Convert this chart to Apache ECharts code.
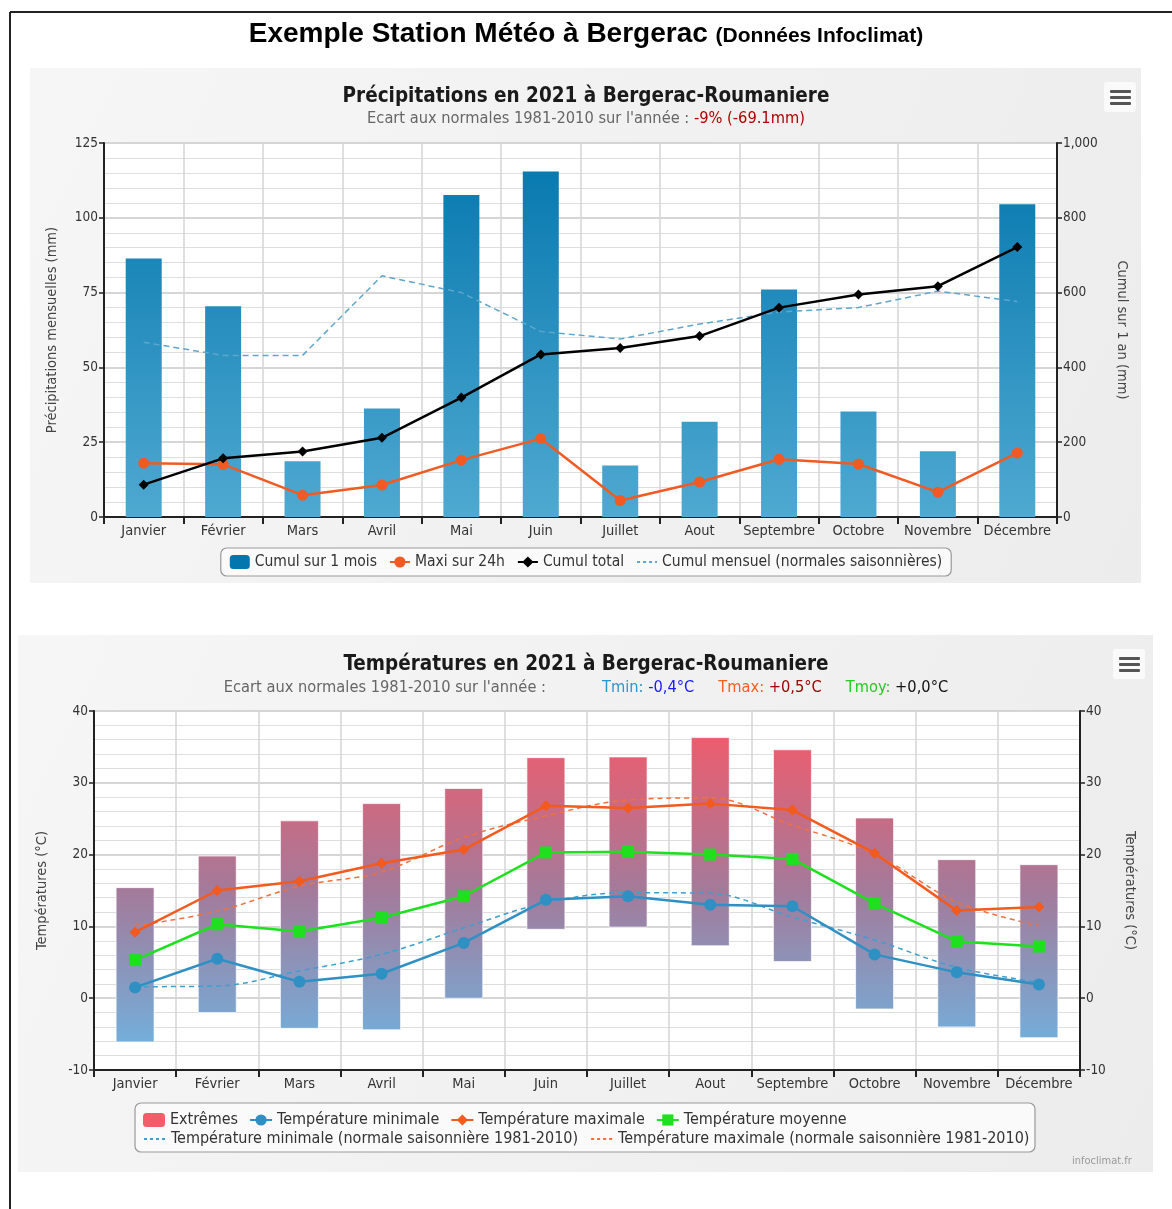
<!DOCTYPE html>
<html><head><meta charset="utf-8">
<script src="https://cdn.jsdelivr.net/npm/echarts@6/dist/echarts.min.js"></script>
<style>html,body{margin:0;padding:0;background:#fff;}#c{width:1172px;height:1209px;}</style>
</head><body><div id="c"></div>
<script>
const months = ['Janvier','Février','Mars','Avril','Mai','Juin','Juillet','Aout','Septembre','Octobre','Novembre','Décembre'];
// Precipitations (mm)
const rainMonthly = [86.4, 70.4, 18.6, 36.3, 107.6, 115.5, 17.2, 31.8, 76.0, 35.3, 22.0, 104.5];
const rainMax24h  = [18.0, 17.6, 7.3, 10.7, 19.0, 26.2, 5.5, 11.7, 19.3, 17.7, 8.3, 21.4];
const rainCumul   = [86.4, 156.8, 175.4, 211.7, 319.3, 434.8, 452.0, 483.8, 559.8, 595.1, 617.1, 721.6];
const rainNormal  = [58.4, 54.0, 54.0, 80.6, 75.0, 62.0, 59.5, 64.5, 68.5, 70.0, 75.5, 72.0];
// Temperatures (°C)
const extLow   = [-6.1, -2.0, -4.2, -4.4, 0.0, 9.6, 9.9, 7.3, 5.1, -1.5, -4.0, -5.5];
const extHigh  = [15.4, 19.8, 24.7, 27.1, 29.2, 33.5, 33.6, 36.3, 34.6, 25.1, 19.3, 18.6];
const tMin     = [1.5, 5.5, 2.3, 3.4, 7.7, 13.7, 14.2, 13.0, 12.8, 6.1, 3.6, 1.9];
const tMax     = [9.2, 15.0, 16.3, 18.8, 20.7, 26.8, 26.5, 27.1, 26.2, 20.2, 12.2, 12.7];
const tMoy     = [5.3, 10.3, 9.3, 11.2, 14.2, 20.3, 20.4, 20.0, 19.4, 13.2, 7.9, 7.2];
const tMinNorm = [1.6, 1.7, 3.8, 6.1, 9.8, 13.3, 14.7, 14.6, 11.3, 8.1, 4.3, 2.2];
const tMaxNorm = [10.1, 12.1, 15.6, 17.6, 22.4, 25.4, 27.6, 27.9, 24.1, 20.1, 13.4, 10.1];
const rainTicksLeft = [0, 125, 25];
const rainTicksRight = [0, 1000, 200];
const tempTicks = [-10, 40, 10];

const FONT = '"DejaVu Sans Condensed", "DejaVu Sans", sans-serif';
const TITLE_FONT = '"Liberation Sans Narrow", "Liberation Sans", sans-serif';
const G1 = {left:104, top:143, width:953, height:374};
const G2 = {left:94, top:711, width:986, height:359};

const rainGrad = {type:'linear', x:0, y:G1.top, x2:0, y2:G1.top+G1.height, global:true,
  colorStops:[{offset:0,color:'#0376ad'},{offset:1,color:'#4fa9d1'}]};
const extGrad = {type:'linear', x:0, y:G2.top, x2:0, y2:G2.top+G2.height, global:true,
  colorStops:[{offset:0,color:'#f85866'},{offset:0.5,color:'#a47a9a'},{offset:1,color:'#6ab8e6'}]};

function xAxisCfg(gi){
  return {type:'category', gridIndex:gi, data:months, boundaryGap:true,
    axisLine:{onZero:false, lineStyle:{color:'#222', width:2}},
    axisTick:{show:true, interval:0, length:7, lineStyle:{color:'#222',width:2}},
    axisLabel:{interval:0, color:'#333', fontSize:14.5, fontFamily:FONT, margin:7},
    splitLine:{show:true, interval:0, lineStyle:{color:'#d4d4d4', width:1.5}}};
}
function yAxisCfg(gi, rng, pos, name, gap, fmt, split){
  return {type:'value', gridIndex:gi, position:pos, min:rng[0], max:rng[1], interval:rng[2],
    name:name, nameLocation:'middle', nameGap:gap, nameRotate: pos==='left'?90:-90,
    nameTextStyle:{color:'#444', fontSize:14.5, fontFamily:FONT},
    axisLine:{show:true, onZero:false, lineStyle:{color:'#222', width:2}},
    axisTick:{show:true, length:5, lineStyle:{color:'#222', width:1.5}},
    axisLabel:{color:'#333', fontSize:13.5, fontFamily:FONT, margin:6, formatter:fmt},
    splitLine:{show:split, lineStyle:{color:'#c8c8c8', width:1.5}},
    minorTick:{show:false, splitNumber:5},
    minorSplitLine:{show:split, lineStyle:{color:'#dedede', width:1.2}}};
}
const LEG_TXT = {color:'#333', fontSize:15.5, fontFamily:FONT};
const LEG_TXT2 = {color:'#333', fontSize:16, fontFamily:FONT};
const hidSym = {color:'transparent', borderWidth:0};
const SUB = 16.3;
function st(color){ return {fontFamily:FONT, fontSize:SUB, fontWeight:'normal', color:color}; }

const option = {
  animation:false,
  backgroundColor:'#fff',
  textStyle:{fontFamily:FONT},
  title:[
    {left:'center', top:15, text:'{a|Exemple Station Météo à Bergerac }{b|(Données Infoclimat)}',
      textStyle:{rich:{a:{fontFamily:TITLE_FONT, fontWeight:'bold', fontSize:28, color:'#000'},
                       b:{fontFamily:TITLE_FONT, fontWeight:'bold', fontSize:21, color:'#000', verticalAlign:'bottom', padding:[0,0,1,0]}}}},
    {left:'center', top:81, text:'Précipitations en 2021 à Bergerac-Roumaniere',
      textStyle:{fontFamily:FONT, fontSize:20.5, color:'#1a1a1a', fontWeight:'bold'}},
    {left:'center', top:106, text:'{g|Ecart aux normales 1981-2010 sur l\'année : }{r|-9% (-69.1mm)}',
      textStyle:{rich:{g:st('#666'), r:st('#b00000')}}},
    {left:'center', top:649, text:'Températures en 2021 à Bergerac-Roumaniere',
      textStyle:{fontFamily:FONT, fontSize:20.5, color:'#1a1a1a', fontWeight:'bold'}},
    {left:'center', top:674, text:'{g|Ecart aux normales 1981-2010 sur l\'année :}{sp|}{a|Tmin: }{b|-0,4°C}{sp2|}{c|Tmax: }{d|+0,5°C}{sp2|}{e|Tmoy: }{f|+0,0°C}',
      textStyle:{rich:{
        g:st('#666'), sp:{width:56}, sp2:{width:24},
        a:st('#2e95cc'), b:st('#1a1aff'), c:st('#f06020'), d:st('#a00000'), e:st('#22cc22'), f:st('#111')}}}
  ],
  graphic:[
    {type:'line', shape:{x1:10, y1:12, x2:1172, y2:12}, style:{stroke:'#222', lineWidth:2}, z:-5},
    {type:'line', shape:{x1:10, y1:12, x2:10, y2:1209}, style:{stroke:'#222', lineWidth:2}, z:-5},
    {type:'rect', shape:{x:30, y:68, width:1111, height:515}, z:-10,
      style:{fill:{type:'linear', x:0, y:0, x2:1, y2:1, colorStops:[{offset:0,color:'#f6f6f6'},{offset:1,color:'#ececec'}]}}},
    {type:'rect', shape:{x:18, y:635, width:1135, height:537}, z:-10,
      style:{fill:{type:'linear', x:0, y:0, x2:1, y2:1, colorStops:[{offset:0,color:'#f6f6f6'},{offset:1,color:'#ececec'}]}}},
    {type:'group', left:1104, top:82, children:[
      {type:'rect', shape:{x:0, y:0, width:32, height:30, r:3}, style:{fill:'#fafafa'}},
      {type:'rect', shape:{x:6, y:8, width:21, height:3, r:1}, style:{fill:'#555'}},
      {type:'rect', shape:{x:6, y:14, width:21, height:3, r:1}, style:{fill:'#555'}},
      {type:'rect', shape:{x:6, y:20, width:21, height:3, r:1}, style:{fill:'#555'}}]},
    {type:'group', left:1113, top:649, children:[
      {type:'rect', shape:{x:0, y:0, width:32, height:30, r:3}, style:{fill:'#fafafa'}},
      {type:'rect', shape:{x:6, y:8, width:21, height:3, r:1}, style:{fill:'#555'}},
      {type:'rect', shape:{x:6, y:14, width:21, height:3, r:1}, style:{fill:'#555'}},
      {type:'rect', shape:{x:6, y:20, width:21, height:3, r:1}, style:{fill:'#555'}}]},
    {type:'rect', shape:{x:135, y:1103, width:900, height:49, r:6}, z:-1,
      style:{fill:'#fafafa', stroke:'#999', lineWidth:1.2}},
    {type:'text', left:1072, top:1156, style:{text:'infoclimat.fr', fill:'#999', font:'11px '+FONT}}
  ],
  legend:[
    {left:'center', top:548, padding:[6,9,6,9], borderColor:'#999', borderWidth:1.2, borderRadius:6,
      backgroundColor:'#fafafa', itemGap:12, itemWidth:20, itemHeight:14, textStyle:LEG_TXT,
      data:[{name:'Cumul sur 1 mois', icon:'roundRect'}, 'Maxi sur 24h', 'Cumul total',
            {name:'Cumul mensuel (normales saisonnières)', itemStyle:hidSym, lineStyle:{type:[3,3]}}]},
    {left:143, top:1112, padding:0, itemGap:11, itemWidth:22, itemHeight:14, textStyle:LEG_TXT2,
      data:[{name:'Extrêmes', icon:'roundRect', itemStyle:{color:'#f25d69'}}, 'Température minimale', 'Température maximale', 'Température moyenne']},
    {left:143, top:1131, padding:0, itemGap:12, itemWidth:22, itemHeight:14, textStyle:LEG_TXT2,
      data:[{name:'Température minimale (normale saisonnière 1981-2010)', itemStyle:hidSym, lineStyle:{type:[3,3]}},
            {name:'Température maximale (normale saisonnière 1981-2010)', itemStyle:hidSym, lineStyle:{type:[3,3]}}]}
  ],
  grid:[
    Object.assign({show:true, backgroundColor:'#fff', borderWidth:0}, G1),
    Object.assign({show:true, backgroundColor:'#fff', borderWidth:0}, G2)
  ],
  xAxis:[xAxisCfg(0), xAxisCfg(1)],
  yAxis:[
    yAxisCfg(0, rainTicksLeft, 'left', 'Précipitations mensuelles (mm)', 44, null, true),
    yAxisCfg(0, rainTicksRight, 'right', 'Cumul sur 1 an (mm)', 57, v => v >= 1000 ? (Math.floor(v/1000)+','+String(v%1000).padStart(3,'0')) : String(v), false),
    yAxisCfg(1, tempTicks, 'left', 'Températures (°C)', 44, null, true),
    yAxisCfg(1, tempTicks, 'right', 'Températures (°C)', 42, null, false)
  ],
  series:[
    {name:'Cumul sur 1 mois', type:'bar', xAxisIndex:0, yAxisIndex:0, data:rainMonthly, barWidth:36,
      itemStyle:{color:rainGrad}, z:1},
    {name:'Cumul mensuel (normales saisonnières)', type:'line', xAxisIndex:0, yAxisIndex:0, data:rainNormal,
      symbol:'none', lineStyle:{color:'#5fa6cc', width:1.5, type:[6,4]}, itemStyle:{color:'#5fa6cc'}, z:2},
    {name:'Maxi sur 24h', type:'line', xAxisIndex:0, yAxisIndex:0, data:rainMax24h,
      symbol:'circle', symbolSize:11, lineStyle:{color:'#f25a24', width:2.5}, itemStyle:{color:'#f25a24'}, z:4},
    {name:'Cumul total', type:'line', xAxisIndex:0, yAxisIndex:1, data:rainCumul,
      symbol:'diamond', symbolSize:10, lineStyle:{color:'#000', width:2.5}, itemStyle:{color:'#000'}, z:5},

    {name:'Extrêmes', type:'custom', xAxisIndex:1, yAxisIndex:2,
      data: months.map((m,i)=>[i, extLow[i], extHigh[i]]),
      encode:{x:0, y:[1,2]},
      itemStyle:{color:'#f25d69'},
      renderItem:function(params, api){
        const i = api.value(0);
        const top = api.coord([i, api.value(2)]);
        const bot = api.coord([i, api.value(1)]);
        const w = 38;
        return {type:'rect', shape:{x:top[0]-w/2, y:top[1], width:w, height:bot[1]-top[1]},
          style:{fill:extGrad, stroke:'rgba(255,255,255,0.7)', lineWidth:1}};
      }, z:1},
    {name:'Température minimale (normale saisonnière 1981-2010)', type:'line', xAxisIndex:1, yAxisIndex:2, data:tMinNorm,
      smooth:0.35, symbol:'none', lineStyle:{color:'#3d9fd0', width:1.5, type:[5,4]}, itemStyle:{color:'#3d9fd0'}, z:2},
    {name:'Température maximale (normale saisonnière 1981-2010)', type:'line', xAxisIndex:1, yAxisIndex:2, data:tMaxNorm,
      smooth:0.35, symbol:'none', lineStyle:{color:'#f2703c', width:1.5, type:[5,4]}, itemStyle:{color:'#f2703c'}, z:2},
    {name:'Température minimale', type:'line', xAxisIndex:1, yAxisIndex:2, data:tMin,
      symbol:'circle', symbolSize:12, lineStyle:{color:'#2f90c4', width:2.5}, itemStyle:{color:'#2f90c4'}, z:4},
    {name:'Température maximale', type:'line', xAxisIndex:1, yAxisIndex:2, data:tMax,
      symbol:'diamond', symbolSize:11, lineStyle:{color:'#f25a1e', width:2.5}, itemStyle:{color:'#f25a1e'}, z:4},
    {name:'Température moyenne', type:'line', xAxisIndex:1, yAxisIndex:2, data:tMoy,
      symbol:'rect', symbolSize:12, lineStyle:{color:'#1ee01e', width:2.5}, itemStyle:{color:'#1ee01e'}, z:5}
  ]
};
const chart = echarts.init(document.getElementById('c'), null, {renderer:'canvas'});
chart.setOption(option);
</script></body></html>
